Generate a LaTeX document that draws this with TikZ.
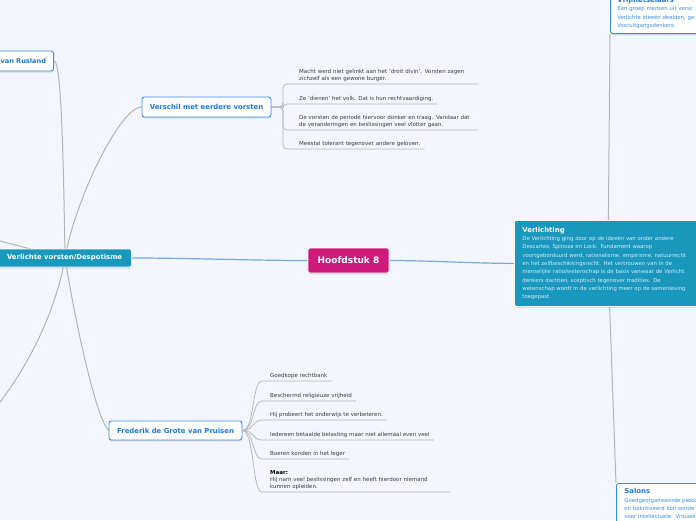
\documentclass[tikz,border=0pt]{standalone}
\usepackage{fontspec}
\setmainfont{DejaVu Sans}
\usetikzlibrary{shadows}
\definecolor{bgc}{HTML}{F3F6FE}
\definecolor{magc}{HTML}{CF1A7C}
\definecolor{tealc}{HTML}{1A97BD}
\definecolor{bluec}{HTML}{3C8BE5}
\definecolor{bluet}{HTML}{1E78D8}
\definecolor{bluet2}{HTML}{3A8BDF}
\definecolor{leafc}{HTML}{3A3A3A}
\definecolor{grayc}{HTML}{B4B4B4}
\definecolor{linec}{HTML}{74A8E2}
\definecolor{vtext}{HTML}{D6EEF6}
\pgfdeclarelayer{back}
\pgfdeclarelayer{lines}
\pgfsetlayers{back,lines,main}
\begin{document}
\begin{tikzpicture}[x=1pt,y=-1pt,
  shad/.style={drop shadow={opacity=0.22,shadow xshift=0pt,shadow yshift=-1.5pt}},
  mainbox/.style={shad,draw=white,line width=0.8pt,rounded corners=2pt,fill=magc,text=white,
    font=\bfseries\fontsize{9}{10.8}\selectfont,minimum width=81pt,minimum height=25pt,inner sep=0pt},
  tealbox/.style={shad,draw=white,line width=0.8pt,rounded corners=1.5pt,fill=tealc,text=white,
    font=\bfseries\fontsize{6.9}{8.3}\selectfont,inner sep=0pt},
  whitebox/.style={shad,draw=bluec,line width=0.9pt,rounded corners=2.5pt,fill=white,text=bluet,
    font=\bfseries\fontsize{6.9}{8.3}\selectfont,inner sep=0pt},
  leaf/.style={anchor=south west,inner xsep=0pt,inner ysep=2.6pt,text=leafc,
    font=\fontsize{5.5}{7}\selectfont,align=left},
  leafline/.style={draw=grayc,line width=0.7pt},
  branch/.style={draw=grayc,line width=1pt},
  mainline/.style={draw=linec,line width=1.2pt}]
\useasboundingbox (0,0) rectangle (696,520);
\begin{pgfonlayer}{back}
  \fill[bgc] (0,0) rectangle (696,520);
\end{pgfonlayer}
\begin{scope}
\clip (0,0) rectangle (696,520);
% main nodes
\node[mainbox] (h8) at (348.5,260.5) {Hoofdstuk 8};
\node[tealbox,minimum width=134pt,minimum height=18pt,anchor=east] (vv) at (132,258) {Verlichte vorsten/Despotisme};
\node[whitebox,minimum width=129pt,minimum height=20pt] (verschil) at (206.5,107) {Verschil met eerdere vorsten};
\node[whitebox,minimum width=133pt,minimum height=19pt] (fred) at (175.5,430.5) {Frederik de Grote van Pruisen};
\node[whitebox,anchor=east,minimum height=20pt,text width=80pt,align=right,inner xsep=7.5pt,
  font=\bfseries\fontsize{6.6}{8}\selectfont] (rus) at (54,61) {van Rusland};
\node[tealbox,anchor=north west,text width=178pt,minimum height=86pt,inner xsep=8pt,align=left,
  font=\fontsize{5.35}{8.3}\selectfont,text=vtext] (verl) at (514,220)
  {{\color{white}\bfseries\fontsize{6.9}{8.3}\selectfont Verlichting}\\
   De Verlichting ging door op de ideeën van onder andere\\
   Descartes, Spinoza en Lock. Fundament waarop\\
   voortgeborduurd werd, rationalisme, empirisme, natuurrecht\\
   en het zelfbeschikkingsrecht. Het vertrouwen van in de\\
   menselijke ratio/wetenschap is de basis vanwaar de Verlicht\\
   denkers dachten, sceptisch tegenover tradities. De\\
   wetenschap wordt in de verlichting meer op de samenleving\\
   toegepast.};
\node[whitebox,anchor=south west,text width=84pt,align=left,inner xsep=7pt,inner ysep=5pt,
  font=\fontsize{5.35}{8.3}\selectfont,text=bluet2] (vrij) at (610,34)
  {{\color{bluet}\bfseries\fontsize{6.9}{8.3}\selectfont Vrijmetselaars}\\
   Een groep mensen uit versc\\
   Verlichte ideeën deelden, ge\\
   Vooruitgangsdenkers.};
\node[whitebox,anchor=north west,text width=80pt,align=left,inner xsep=8pt,inner ysep=5pt,
  font=\fontsize{5.35}{8.3}\selectfont,text=bluet2] (salons) at (616,483)
  {{\color{bluet}\bfseries\fontsize{6.9}{8.3}\selectfont Salons}\\
   Goedgeorganiseerde plekk\\
   en bekritiseerd kon worde\\
   voor intellectuele. Vrouwe};
% leaves of Verschil
\node[leaf,text width=175pt] (vc1) at (299,84) {Macht werd niet gelinkt aan het 'droit divin'. Vorsten zagen\\zichzelf als een gewone burger.};
\node[leaf] (vc2) at (299,104) {Ze 'dienen' het volk. Dat is hun rechtvaardiging.};
\node[leaf,text width=175pt] (vc3) at (299,130) {De vorsten de periode hiervoor donker en traag. Vandaar dat\\de veranderingen en beslissingen veel vlotter gaan.};
\node[leaf] (vc4) at (299,149) {Meestal tolerant tegenover andere geloven.};
% leaves of Frederik
\node[leaf] (fc1) at (270,381) {Goedkope rechtbank};
\node[leaf] (fc2) at (270,401) {Beschermd religieuze vrijheid};
\node[leaf] (fc3) at (270,420) {Hij probeert het onderwijs te verbeteren.};
\node[leaf] (fc4) at (270,440) {Iedereen betaalde belasting maar niet allemaal even veel};
\node[leaf] (fc5) at (270,459) {Boeren konden in het leger};
\node[leaf,text width=176pt] (fc6) at (270,492) {{\color{black}\bfseries Maar:}\\Hij nam veel beslissingen zelf en heeft hierdoor niemand\\kunnen opleiden.};
\coordinate (vvhub) at (65,258);
\coordinate (vhub) at (608,262);
\coordinate (vfork) at (283,107);
\coordinate (offA) at (-8,412);
\coordinate (offB) at (-10,238.4);
\end{scope}
\begin{pgfonlayer}{lines}
\clip (0,0) rectangle (696,520);
\draw[mainline] (h8.west) .. controls +(-60pt,0pt) and +(60pt,0pt) .. (vv.east);
\draw[mainline] (h8.east) .. controls +(40pt,0pt) and +(-40pt,0pt) .. (verl.west);
\draw[branch] (rus.east) .. controls +(6pt,0pt) and (63,120) .. (vvhub);
\draw[branch] (verschil.west) .. controls (120,107) and (75,200) .. (vvhub);
\draw[branch] (vvhub) .. controls (75,320) and (95,415) .. (fred.west);
\draw[branch] (vvhub) .. controls (58,300) and (35,360) .. (offA);
\draw[branch] (offB) -- (vvhub);
\draw[branch] (vhub) -- (vrij.south west);
\draw[branch] (vhub) -- (salons.north west);
\foreach \c in {vc1,vc2,vc3,vc4}
  \draw[leafline,rounded corners=4pt] (verschil.east) -- (vfork) |- ([xshift=4pt]\c.south east);
\foreach \c in {fc1,fc2,fc3,fc4,fc5,fc6}
  \draw[leafline] (fred.east) .. controls +(12pt,0pt) and +(-10pt,0pt) .. ([xshift=-8pt]\c.south west) -- ([xshift=4pt]\c.south east);
\end{pgfonlayer}
\end{tikzpicture}
\end{document}
